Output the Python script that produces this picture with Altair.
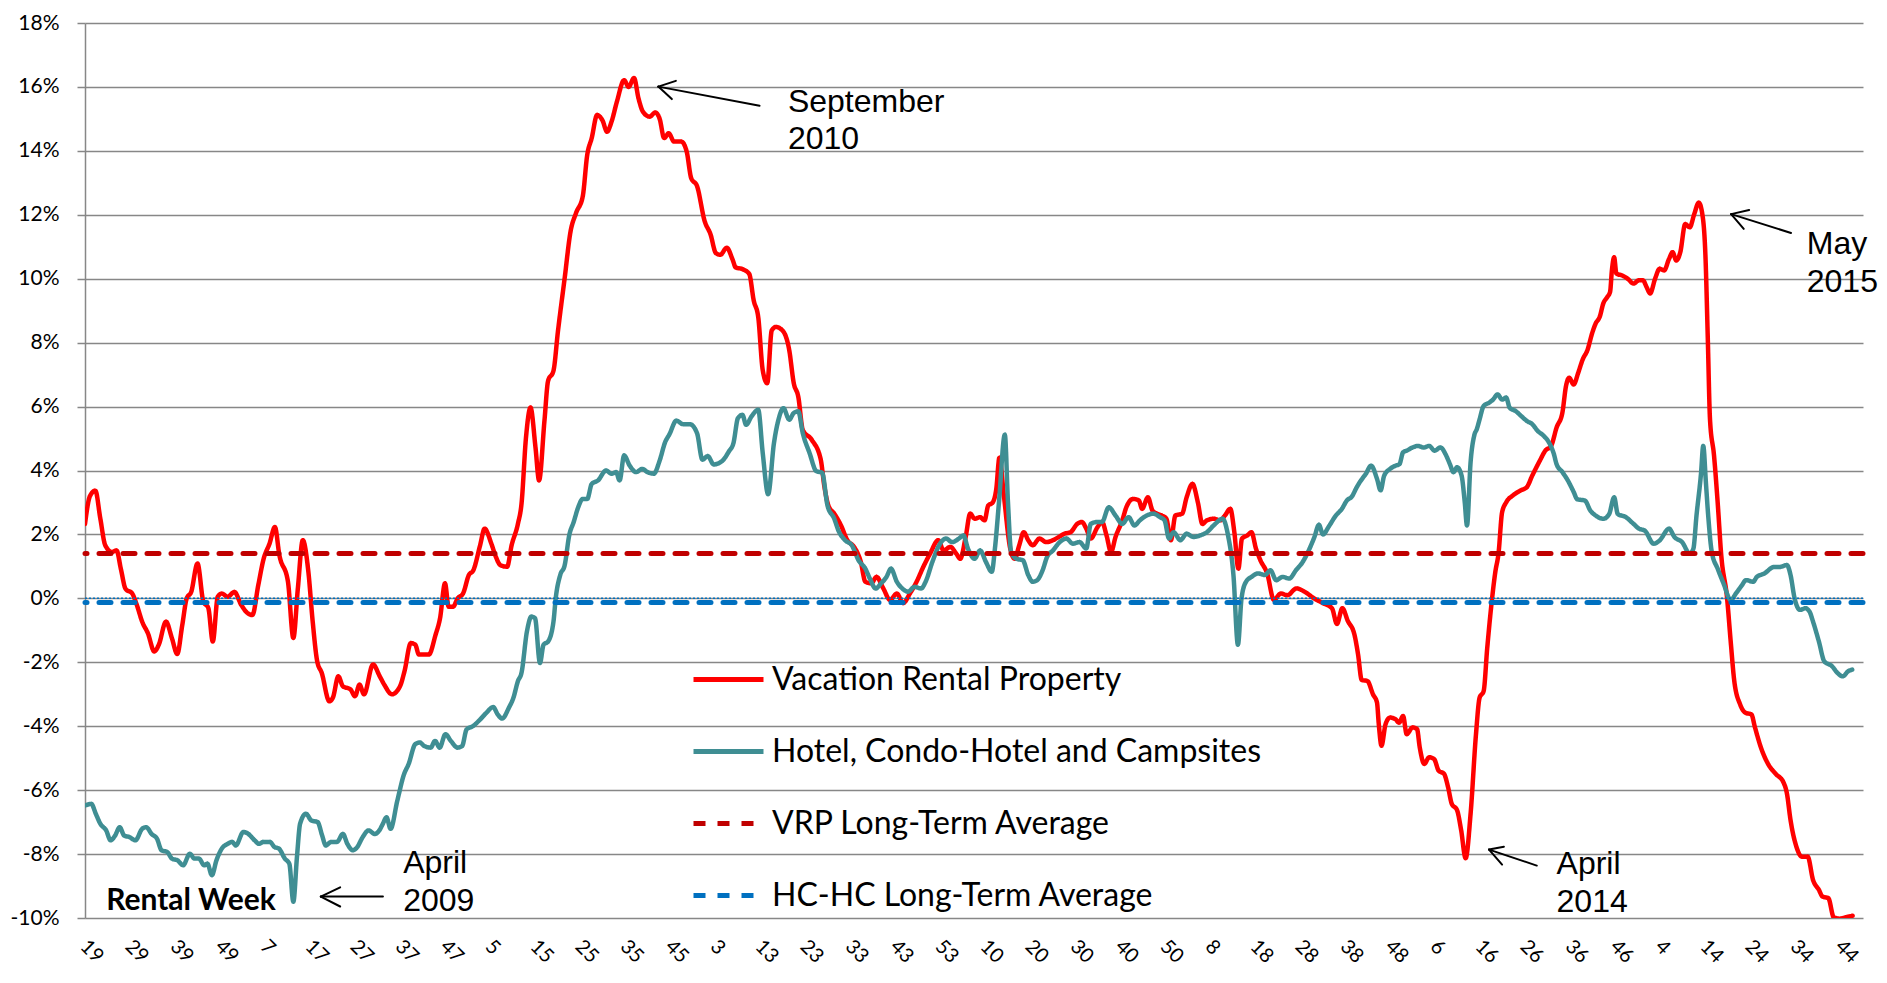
import json
import altair as alt
import pandas as pd

# ---------------- data (week index from 2008 wk19, percent) ----------------
vrp_points = [
    (0, 2.33), (1.1, 3.2), (2.3, 3.37), (3.4, 2.5), (4.5, 1.66), (6, 1.45), (7, 1.5), (8, 0.9), (9, 0.3),
    (10.5, 0.15), (11.5, -0.2), (12.7, -0.73), (14, -1.1), (15.4, -1.66), (16.4, -1.45), (18, -0.73),
    (19.3, -1.24), (20.5, -1.74), (21.6, -0.85), (22.6, 0.0), (23.6, 0.2), (25, 1.09), (26.3, -0.1),
    (27.4, -0.3), (28.4, -1.35), (29.5, 0.05), (30.4, 0.15), (31.7, 0.05), (33.2, 0.2), (34.7, -0.2),
    (36.2, -0.47), (37.2, -0.52), (38.5, 0.41), (39.7, 1.24), (41, 1.71), (42.2, 2.23), (43.2, 1.35),
    (45.1, 0.52), (46.3, -1.24), (47.3, 0.31), (48.4, 1.82), (49.6, 0.88), (50.6, -0.73), (51.6, -1.97),
    (52.6, -2.33), (54.3, -3.22), (55.1, -3.1), (56.3, -2.44), (57.3, -2.75), (59, -2.85), (60, -3.06),
    (61, -2.7), (62, -3.0), (64, -2.07), (65.5, -2.44), (66.5, -2.7), (68.2, -3.0), (70, -2.75),
    (71, -2.28), (72.4, -1.4), (73.4, -1.45), (74.2, -1.76), (76.4, -1.76), (77.9, -1.14), (78.9, -0.62),
    (80, 0.47), (80.8, -0.26), (81.8, -0.26), (82.8, 0.0), (84, 0.15), (85.3, 0.73), (86.3, 0.88),
    (87.8, 1.66), (88.8, 2.18), (90.3, 1.71), (91.3, 1.3), (92.3, 1.04), (93.8, 0.99), (94.8, 1.66),
    (96.2, 2.33), (97, 2.96), (98, 5.04), (99, 5.97), (100.1, 4.73), (100.9, 3.69), (102.1, 5.56),
    (102.9, 6.8), (104.1, 7.12), (105.1, 8.36), (106.6, 10.03), (107.9, 11.48), (109.1, 12.05),
    (110.6, 12.57), (111.6, 13.87), (112.6, 14.4), (113.8, 15.12), (115, 14.95), (116, 14.6),
    (117, 14.91), (118.2, 15.54), (119.8, 16.21), (120.8, 16.0), (122, 16.28), (123, 15.64),
    (124, 15.22), (125.5, 15.07), (126.7, 15.2), (127.7, 15.0), (128.7, 14.4), (129.7, 14.55),
    (130.9, 14.29), (132.5, 14.29), (133.7, 13.98), (134.7, 13.15), (136, 12.9), (137.7, 11.8),
    (139, 11.39), (140.2, 10.8), (141.2, 10.75), (142.6, 10.97), (143.9, 10.6), (144.6, 10.35),
    (146.1, 10.3), (147.6, 10.15), (148.6, 9.32), (149.6, 8.8), (150.6, 7.14), (151.6, 6.73),
    (152.6, 8.38), (153.5, 8.49), (155, 8.38), (156.5, 7.76), (157.5, 6.73), (158.5, 6.31),
    (159.5, 5.27), (161.5, 4.96), (163.5, 4.34), (164.3, 3.5), (165.2, 2.9), (166.5, 2.65),
    (168, 2.28), (169.4, 1.82), (170.9, 1.61), (172.4, 1.14), (173.4, 0.52), (174.7, 0.47),
    (175.9, 0.67), (177.4, 0.31), (178.9, -0.05), (180.4, 0.15), (181.8, -0.15), (183.3, 0.15),
    (184.8, 0.52), (186.3, 0.99), (187.8, 1.4), (189.6, 1.82), (190.8, 1.5), (192.3, 1.61),
    (193.6, 1.4), (194.5, 1.24), (195.7, 1.92), (196.7, 2.65), (197.7, 2.49), (198.9, 2.54),
    (199.9, 2.44), (200.7, 2.9), (201.7, 3.0), (202.5, 3.42), (203.2, 4.4), (204.2, 3.2),
    (205.6, 1.56), (206.6, 1.24), (207.6, 1.66), (208.6, 2.07), (209.6, 1.82), (210.6, 1.66),
    (212.1, 1.87), (213.6, 1.76), (215.1, 1.82), (216.4, 1.92), (217.6, 2.02), (219, 2.07),
    (220.5, 2.33), (221.5, 2.39), (222.5, 2.18), (223.5, 1.87), (225, 2.23), (226, 2.39),
    (227, 1.97), (228, 1.45), (229, 1.92), (230.5, 2.44), (231.4, 2.85), (232.9, 3.11),
    (234.2, 3.06), (234.9, 2.8), (236.2, 3.16), (237.2, 2.75), (238.2, 2.65), (239.3, 2.59),
    (240.3, 2.49), (241.3, 1.82), (242.3, 2.59), (243.8, 2.65), (244.8, 3.16), (246.1, 3.58),
    (247.3, 3.0), (248.3, 2.33), (249.3, 2.44), (250.8, 2.49), (252.3, 2.44), (253.3, 2.59),
    (254.5, 2.8), (255.4, 2.07), (256.3, 0.93), (257.1, 1.87), (258.3, 1.97), (259.2, 2.07),
    (260.2, 1.56), (261.2, 1.19), (262.7, 0.78), (264.2, -0.05), (265.7, 0.15), (267.2, 0.1),
    (269.2, 0.31), (271.1, 0.2), (273.1, 0.0), (275.1, -0.15), (277.1, -0.31), (278.2, -0.8),
    (279.4, -0.31), (280.6, -0.7), (282.1, -1.14), (282.9, -1.76), (283.7, -2.55), (285, -2.59),
    (286.2, -3.0), (287.1, -3.26), (287.5, -3.94), (288.1, -4.61), (289, -3.94), (290, -3.73),
    (291.2, -3.78), (292, -3.89), (292.9, -3.68), (293.7, -4.25), (295, -4.04), (296, -4.09),
    (296.6, -4.66), (297.6, -5.18), (298.7, -4.97), (299.8, -5.03), (300.8, -5.39), (302, -5.49),
    (302.9, -5.91), (303.7, -6.42), (304.9, -6.63), (305.8, -7.25), (306.8, -8.13), (307.9, -6.74),
    (309.1, -4.25), (309.9, -3.11), (310.8, -2.9), (311.6, -1.55), (312.6, -0.1), (313.4, 0.83),
    (314.1, 1.4), (314.9, 2.69), (315.8, 3.0), (317.3, 3.22), (319.1, 3.38), (320.4, 3.48),
    (321.6, 3.84), (323.3, 4.31), (324.5, 4.62), (325.8, 4.77), (327, 5.34), (328.3, 5.81),
    (329.1, 6.64), (329.8, 6.9), (330.8, 6.69), (331.8, 7.05), (332.8, 7.47), (333.9, 7.78),
    (334.9, 8.29), (335.7, 8.6), (336.6, 8.81), (337.4, 9.23), (338.3, 9.43), (338.9, 9.59),
    (339.3, 10.26), (339.8, 10.67), (340.3, 10.16), (341.6, 10.1), (342.8, 10.0), (344.1, 9.85),
    (345.3, 9.95), (346.2, 9.95), (347, 9.74), (347.8, 9.54), (348.9, 10.0), (349.9, 10.31),
    (350.9, 10.26), (352, 10.62), (352.8, 10.83), (353.6, 10.57), (354.5, 10.83), (355.6, 11.71),
    (356.6, 11.61), (357.6, 12.02), (358.6, 12.38), (359.5, 11.92), (360.1, 10.67), (360.6, 8.19),
    (361.1, 5.6), (362, 4.46), (362.8, 3.01), (363.6, 1.35), (364.9, 0.0), (365.7, -1.35),
    (366.5, -2.59), (367.8, -3.32), (369, -3.58), (370.3, -3.63), (371.1, -4.04), (372.4, -4.66),
    (374, -5.18), (375.7, -5.49), (377.4, -5.75), (378.2, -6.11), (379, -6.94), (380.3, -7.77),
    (381.5, -8.08), (382.8, -8.08), (384, -8.81), (385.3, -9.12), (386.1, -9.33), (387.4, -9.38),
    (388.6, -9.98), (389.9, -10.02), (391.5, -9.97), (392.8, -9.93),
]

hc_points = [
    (0, -6.48), (1.4, -6.43), (2.4, -6.74), (3.4, -7.05), (4.7, -7.26), (5.7, -7.57), (6.7, -7.42),
    (7.7, -7.16), (8.7, -7.42), (9.9, -7.47), (11.2, -7.57), (12.7, -7.21), (13.6, -7.16), (14.8, -7.37),
    (16, -7.52), (17, -7.88), (18.3, -7.94), (19.3, -8.14), (20.6, -8.2), (21.8, -8.35), (23.3, -7.99),
    (24.3, -8.14), (25.3, -8.14), (26.5, -8.35), (27.2, -8.3), (28.2, -8.66), (29.2, -8.2), (30.4, -7.83),
    (31.7, -7.68), (32.7, -7.62), (33.5, -7.73), (35.2, -7.31), (36.2, -7.36), (37.7, -7.57),
    (38.7, -7.68), (39.6, -7.62), (41.1, -7.62), (42.1, -7.78), (43.1, -7.83), (44.4, -8.14),
    (45.4, -8.3), (46.3, -9.49), (47.1, -8.09), (47.8, -7.05), (49.1, -6.74), (50.3, -6.95),
    (51.7, -7.0), (52.7, -7.42), (53.5, -7.73), (54.7, -7.62), (56, -7.62), (57.3, -7.37),
    (58.3, -7.68), (59.5, -7.88), (60.5, -7.78), (61.7, -7.47), (63, -7.26), (64.4, -7.37),
    (65.4, -7.26), (66.2, -7.05), (67, -6.85), (67.9, -7.21), (69.4, -6.33), (70.9, -5.5),
    (71.9, -5.19), (73.4, -4.56), (74.4, -4.51), (75.4, -4.62), (76.8, -4.67), (77.8, -4.46),
    (78.8, -4.67), (80.1, -4.25), (81.3, -4.46), (82.8, -4.67), (83.8, -4.62), (84.8, -4.1),
    (86.3, -3.99), (87.8, -3.79), (89.2, -3.58), (90.7, -3.4), (91.7, -3.63), (92.7, -3.76),
    (94.2, -3.42), (95.2, -3.11), (96.2, -2.59), (97, -2.33), (98.2, -1.04), (99.2, -0.57),
    (100, -0.62), (101.1, -2.02), (101.9, -1.45), (102.9, -1.35), (104.1, -0.73), (104.6, 0.0),
    (105.6, 0.73), (106.6, 1.04), (107.6, 1.97), (108.6, 2.39), (109.6, 2.85), (110.6, 3.11),
    (111.6, 3.11), (112.6, 3.58), (114, 3.69), (115.8, 4.0), (117, 3.9), (118, 3.95), (118.8, 3.69),
    (119.8, 4.47), (121, 4.16), (122.5, 3.95), (123.8, 4.05), (125, 3.95), (126.4, 3.9), (127.7, 4.31),
    (128.9, 4.88), (129.9, 5.14), (131.4, 5.56), (132.9, 5.45), (134.4, 5.45), (136, 5.17),
    (137.2, 4.34), (138.4, 4.45), (139.7, 4.19), (141.6, 4.3), (143.1, 4.6), (144.1, 4.86),
    (145.1, 5.64), (146.1, 5.74), (146.9, 5.43), (148.1, 5.69), (149.6, 5.9), (150.6, 4.55),
    (151.8, 3.26), (153.1, 4.86), (154.1, 5.59), (155.2, 5.95), (156.5, 5.59), (157.5, 5.8),
    (158.5, 5.85), (159.5, 5.17), (161, 4.55), (162.5, 3.98), (163.8, 3.93), (165, 2.9),
    (166.5, 2.49), (167.4, 2.13), (168.9, 1.82), (170.4, 1.66), (171.9, 1.19), (173.4, 0.93),
    (174.4, 0.62), (175.7, 0.31), (176.9, 0.47), (178.1, 0.67), (179.1, 0.93), (180.4, 0.52),
    (181.6, 0.31), (182.9, 0.21), (184.3, 0.36), (185.8, 0.31), (186.8, 0.52), (188.3, 1.14),
    (189.8, 1.66), (191.3, 1.87), (192.7, 1.76), (194.2, 1.87), (195.2, 1.97), (196.2, 1.56),
    (197.7, 1.24), (198.9, 1.5), (200.2, 1.14), (201.5, 0.83), (202.2, 1.56), (203.1, 3.0),
    (204.4, 5.12), (205.1, 3.0), (205.8, 1.45), (207, 1.24), (208.4, 1.19), (209.6, 0.73),
    (210.6, 0.52), (211.6, 0.57), (212.8, 0.88), (213.8, 1.3), (215.1, 1.5), (216.6, 1.76),
    (218.1, 1.87), (219.5, 1.71), (221, 1.76), (222.5, 1.56), (223.5, 2.33), (225, 2.39),
    (226, 2.39), (227.5, 2.85), (229, 2.59), (230.5, 2.33), (231.9, 2.54), (233.2, 2.28),
    (234.4, 2.44), (235.9, 2.59), (237.4, 2.65), (238.9, 2.54), (239.9, 2.44), (240.9, 1.87),
    (241.9, 2.07), (243.4, 1.82), (244.8, 2.02), (246.3, 1.92), (247.8, 1.97), (249.3, 2.07),
    (250.8, 2.28), (252.8, 2.49), (254, 1.97), (255.2, 0.73), (256.2, -1.45), (257, 0.0),
    (258, 0.52), (259.2, 0.67), (260.7, 0.78), (262.2, 0.73), (263.4, 0.88), (264.7, 0.57),
    (266.1, 0.67), (267.6, 0.62), (269.1, 0.88), (270.6, 1.14), (272.1, 1.55), (273.2, 1.92),
    (274.2, 2.3), (275.1, 2.0), (276.4, 2.25), (277.9, 2.58), (279.3, 2.8), (280.4, 3.06),
    (281.6, 3.2), (282.5, 3.45), (283.3, 3.64), (284.6, 3.89), (285.8, 4.15), (287.1, 3.74),
    (287.9, 3.38), (288.7, 3.84), (290, 4.05), (291.2, 4.15), (292.1, 4.2), (292.9, 4.57),
    (293.7, 4.62), (295, 4.72), (296.2, 4.77), (297.5, 4.72), (298.7, 4.77), (299.9, 4.62),
    (301.2, 4.72), (302.5, 4.46), (303.3, 4.2), (304.1, 3.95), (304.9, 4.1), (305.9, 3.84),
    (306.6, 3.01), (307.1, 2.28), (307.9, 4.26), (308.7, 5.09), (309.3, 5.3), (309.9, 5.6),
    (310.8, 6.02), (312, 6.12), (312.9, 6.22), (313.9, 6.38), (314.9, 6.22), (315.8, 6.28),
    (316.6, 5.96), (317.9, 5.86), (319.1, 5.71), (320.4, 5.55), (321.6, 5.45), (322.8, 5.24),
    (324.1, 5.09), (325.3, 4.88), (326.4, 4.52), (327, 4.2), (328.3, 3.95), (329.5, 3.69),
    (330.8, 3.33), (331.6, 3.1), (333.3, 3.06), (334.5, 2.75), (335.7, 2.59), (337.4, 2.49),
    (338.7, 2.64), (339.8, 3.16), (340.6, 2.64), (342.4, 2.54), (344.1, 2.33), (345.3, 2.18),
    (346.6, 2.12), (348.6, 1.71), (349.9, 1.81), (352, 2.18), (353.2, 1.92), (354.9, 1.76),
    (356.6, 1.4), (357.4, 1.55), (358.1, 2.59), (359.1, 3.9), (359.6, 4.77), (360.2, 3.6),
    (360.7, 2.59), (361.5, 1.45), (362.8, 0.93), (364.1, 0.47), (365.7, -0.05), (366.9, 0.16),
    (368.2, 0.41), (369.1, 0.57), (370.7, 0.52), (371.5, 0.67), (373.2, 0.78), (375.3, 0.98),
    (376.5, 0.98), (378.2, 1.04), (379, 0.73), (379.9, 0.0), (381.1, -0.36), (382.3, -0.31),
    (383.2, -0.41), (384, -0.73), (385.3, -1.35), (386.5, -1.97), (388.2, -2.12), (389.4, -2.33),
    (390.6, -2.44), (391.8, -2.28), (392.7, -2.23),
]

series_names = [
    "Vacation Rental Property",
    "Hotel, Condo-Hotel and Campsites",
    "VRP Long-Term Average",
    "HC-HC Long-Term Average",
]
series_colors = ["#FF0000", "#3F8E93", "#C00000", "#0070C0"]
series_dashes = [[1, 0], [1, 0], [12, 12], [12, 12]]
avg_values = [1.4, -0.13]

week_labels = ["19", "29", "39", "49", "7", "17", "27", "37", "47", "5", "15", "25", "35", "45",
               "3", "13", "23", "33", "43", "53", "10", "20", "30", "40", "50", "8", "18", "28",
               "38", "48", "6", "16", "26", "36", "46", "4", "14", "24", "34", "44"]
week_ticks = list(range(0, 391, 10))
y_ticks = list(range(-10, 19, 2))

ann_text = ["September", "2010", "April", "2009", "April", "2014", "May", "2015"]
ann_x = [156.2, 156.2, 70.7, 70.7, 327.0, 327.0, 382.6, 382.6]
ann_y = [15.22, 14.07, -8.58, -9.79, -8.61, -9.82, 10.78, 9.6]

arrow_x = [149.9, 127.4, 127.4, 66.2, 52.4, 52.4, 322.6, 312.0, 312.0, 379.1, 365.8, 365.8]
arrow_y = [15.41, 16.01, 16.01, -9.33, -9.33, -9.33, -8.36, -7.86, -7.86, 11.43, 12.02, 12.02]
arrow_x2 = [127.4, 131.3, 130.4, 52.4, 56.7, 56.7, 312.0, 315.3, 314.9, 365.8, 369.8, 368.6]
arrow_y2 = [16.01, 16.19, 15.62, -9.33, -9.04, -9.64, -7.86, -7.77, -8.33, 12.02, 12.15, 11.56]

axis_title_text = ["Rental Week"]
axis_title_x = [4.7]
axis_title_y = [-9.76]

# ---------------- tables ----------------
lines_df = pd.DataFrame(
    {
        "week": [p[0] for p in vrp_points] + [p[0] for p in hc_points],
        "pct": [p[1] for p in vrp_points] + [p[1] for p in hc_points],
        "series": [series_names[0]] * len(vrp_points) + [series_names[1]] * len(hc_points),
    }
)
avg_df = pd.DataFrame({"pct": avg_values, "series": series_names[2:]})
zero_df = pd.DataFrame({"pct": [0.0]})
ann_df = pd.DataFrame({"week": ann_x, "pct": ann_y, "label": ann_text})
arrow_df = pd.DataFrame({"week": arrow_x, "pct": arrow_y, "week2": arrow_x2, "pct2": arrow_y2})
title_df = pd.DataFrame({"week": axis_title_x, "pct": axis_title_y, "label": axis_title_text})

GRID = "#878787"
FONT = "Lato"

x_scale = alt.Scale(domain=[0, 395.1], nice=False, zero=False)
y_scale = alt.Scale(domain=[-10, 18], nice=False, zero=False)

x_axis = alt.Axis(
    values=week_ticks,
    labelExpr=json.dumps(week_labels) + "[round(datum.value / 10)]",
    labelAngle=45, labelAlign="left", labelBaseline="top",
    labelPadding=18, labelOffset=5,
    labelFont=FONT, labelFontSize=20, labelColor="#000000",
    labelOverlap=False, labelFlush=False, labelBound=False,
    ticks=False, domain=False, grid=False, title=None,
)
y_axis = alt.Axis(
    values=y_ticks, labelExpr="datum.value + '%'",
    labelFont=FONT, labelFontSize=21, labelColor="#000000", labelPadding=18,
    tickSize=8, tickColor=GRID, tickWidth=1.5,
    domainColor=GRID, domainWidth=1.5,
    grid=True, gridColor=GRID, gridWidth=1.5,
    labelOverlap=False, labelFlush=False, title=None,
)


def X(field="week"):
    return alt.X(f"{field}:Q", scale=x_scale, axis=x_axis)


def Y(field="pct"):
    return alt.Y(f"{field}:Q", scale=y_scale, axis=y_axis)


legend = alt.Legend(
    title=None, orient="none", legendX=606, legendY=619,
    symbolType="stroke", symbolSize=4900, symbolStrokeWidth=5,
    labelFont=FONT, labelFontSize=32, labelColor="#000000",
    labelOffset=6, labelLimit=800, rowPadding=18, padding=0,
)
color_enc = alt.Color("series:N", scale=alt.Scale(domain=series_names, range=series_colors), legend=legend)
dash_enc = alt.StrokeDash("series:N", scale=alt.Scale(domain=series_names, range=series_dashes), legend=legend)

lines = alt.Chart(lines_df).mark_line(
    strokeWidth=4.5, interpolate="monotone", clip=True, strokeJoin="round", strokeCap="round"
).encode(x=X(), y=Y(), color=color_enc, strokeDash=dash_enc, detail="series:N")

zero_line = alt.Chart(zero_df).mark_rule(
    strokeWidth=1.5, strokeDash=[2, 2], color="#0070C0"
).encode(y=Y())

avg_lines = alt.Chart(avg_df).mark_rule(strokeWidth=5, strokeCap="round").encode(
    y=Y(), color=color_enc, strokeDash=dash_enc
)

ann = alt.Chart(ann_df).mark_text(
    align="left", baseline="alphabetic", font="Liberation Sans",
    fontSize=32, color="#000000"
).encode(x=X(), y=Y(), text="label:N")

arrows = alt.Chart(arrow_df).mark_rule(strokeWidth=2, color="#000000", strokeCap="round").encode(
    x=X(), y=Y(), x2="week2:Q", y2="pct2:Q"
)

axis_title = alt.Chart(title_df).mark_text(
    align="left", baseline="alphabetic", font=FONT, fontWeight="bold", fontSize=30, color="#000000"
).encode(x=X(), y=Y(), text="label:N")

chart = (
    alt.layer(lines, zero_line, avg_lines, arrows, ann, axis_title)
    .properties(
        width=1778, height=895,
        padding={"left": 77, "top": 15, "right": 16, "bottom": 53},
        autosize=alt.AutoSizeParams(type="none"),
        background="white",
    )
    .configure_view(stroke=None)
)

chart.save("out.html", embed_options={"renderer": "svg", "actions": False})
